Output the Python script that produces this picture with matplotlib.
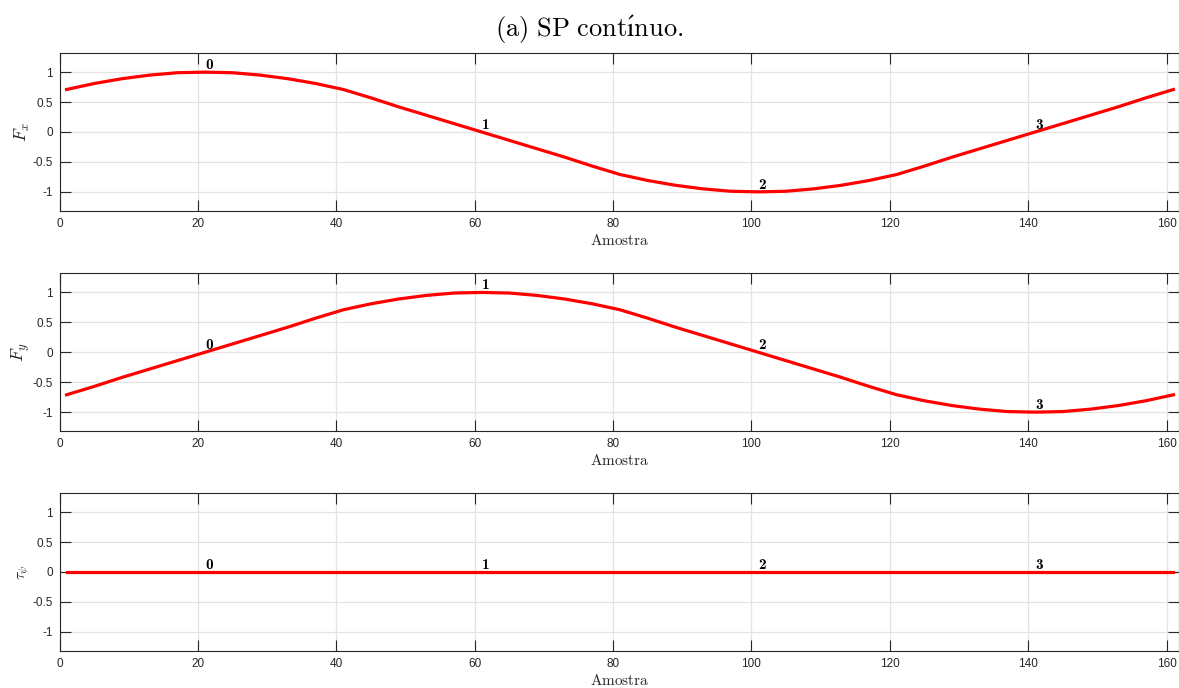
# Importamos librerias
import numpy as np
import matplotlib
matplotlib.use('Agg')
import matplotlib.pyplot as plt

# Fuentes tipo LaTeX para textos matematicos
plt.rcParams['mathtext.fontset'] = 'cm'
plt.rcParams['font.family'] = ['Liberation Sans', 'DejaVu Sans']

# Datos (una muestra cada 4)
amostra = [1, 5, 9, 13, 17, 21, 25, 29, 33, 37, 41, 45, 49, 53, 57, 61, 65, 69, 73, 77, 81,
           85, 89, 93, 97, 101, 105, 109, 113, 117, 121, 125, 129, 133, 137, 141, 145, 149,
           153, 157, 161]
fx = [0.71, 0.81, 0.89, 0.95, 0.99, 1.00, 0.99, 0.95, 0.89, 0.81, 0.71, 0.57, 0.42, 0.28,
      0.14, 0.00, -0.14, -0.28, -0.42, -0.57, -0.71, -0.81, -0.89, -0.95, -0.99, -1.00,
      -0.99, -0.95, -0.89, -0.81, -0.71, -0.57, -0.42, -0.28, -0.14, 0.00, 0.14, 0.28,
      0.42, 0.57, 0.71]
fy = [-0.71, -0.57, -0.42, -0.28, -0.14, 0.00, 0.14, 0.28, 0.42, 0.57, 0.71, 0.81, 0.89,
      0.95, 0.99, 1.00, 0.99, 0.95, 0.89, 0.81, 0.71, 0.57, 0.42, 0.28, 0.14, 0.00, -0.14,
      -0.28, -0.42, -0.57, -0.71, -0.81, -0.89, -0.95, -0.99, -1.00, -0.99, -0.95, -0.89,
      -0.81, -0.71]
tau = [0.0] * len(amostra)

# Puntos marcados
pontos = [21, 61, 101, 141]
rotulos = ['0', '1', '2', '3']

series = [fx, fy, tau]
ylabels = [r'$F_x$', r'$F_y$', r'$\tau_\psi$']
ylabel_size = [13, 13, 11]

# Posiciones de los ejes (en fraccion de la figura)
fondos = [0.6933, 0.3731, 0.0538]

fig = plt.figure(figsize=(11.79, 6.88), dpi=100)
fig.suptitle(r'$\mathrm{(a)\ SP\ cont\acute{ı}nuo.}$', x=0.5, y=0.98, fontsize=19)

cinza = '#262626'

for i in range(3):
    ax = fig.add_axes([0.0506, fondos[i], 0.9494, 0.2297])
    ax.plot(amostra, series[i], color='red', lw=2.3, zorder=3)

    # Etiquetas de los puntos (negrita estilo LaTeX)
    for p, r in zip(pontos, rotulos):
        y = series[i][amostra.index(p)]
        ax.text(p, y, r, family=['cmb10', 'DejaVu Serif'], fontsize=11,
                ha='left', va='bottom', zorder=4)

    ax.set_xlim(0, 161.8)
    ax.set_ylim(-1.32, 1.32)
    ax.set_xticks([0, 20, 40, 60, 80, 100, 120, 140, 160])
    ax.set_yticks([-1, -0.5, 0, 0.5, 1])
    ax.set_yticklabels(['-1', '-0.5', '0', '0.5', '1'])
    ax.grid(True, color='#e3e3e3', lw=0.9)
    ax.set_axisbelow(True)
    ax.tick_params(direction='in', length=8, width=0.8, colors=cinza, labelsize=8.5,
                   top=True, right=True, pad=5)
    for s in ax.spines.values():
        s.set_color(cinza)
        s.set_linewidth(0.8)
    ax.set_xlabel(r'$\mathrm{Amostra}$', fontsize=11, color=cinza, labelpad=2)
    ax.set_ylabel(ylabels[i], fontsize=ylabel_size[i], color=cinza, labelpad=0)

plt.savefig('out.png', dpi=100)
